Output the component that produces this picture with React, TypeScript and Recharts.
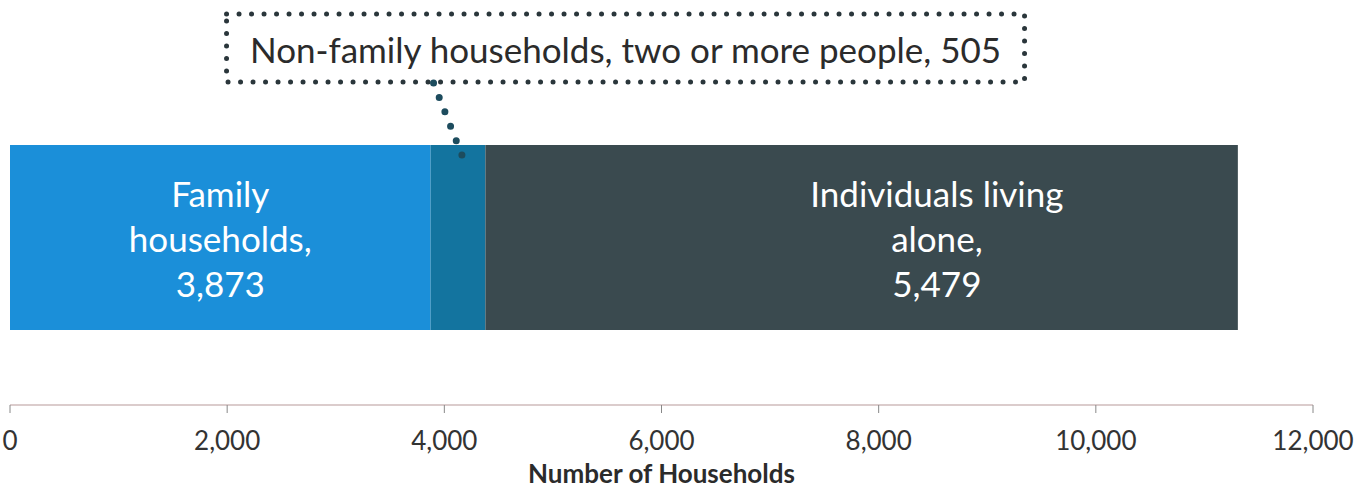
import React from 'react';
import { BarChart, Bar, XAxis, YAxis, LabelList } from 'recharts';

const categories = ['Households'];
const familyValues = [3873];
const nonFamilyValues = [505];
const aloneValues = [6930];
const familyLabel = ['Family', 'households,', '3,873'];
const aloneLabel = ['Individuals living', 'alone,', '5,479'];
const calloutText = 'Non-family households, two or more people, 505';
const xTicks = [0, 2000, 4000, 6000, 8000, 10000, 12000];
const axisTitle = 'Number of Households';

const data = categories.map((c, i) => ({
  name: c,
  family: familyValues[i],
  nonFamily: nonFamilyValues[i],
  alone: aloneValues[i],
}));

const FONT = 'Lato, "Open Sans", sans-serif';

const makeLines = (lines: string[], frac: number) => (props: any) => {
  const { x, y, width, height } = props;
  const cx = Number(x) + Number(width) * frac;
  const cy = Number(y) + Number(height) / 2;
  return (
    <g>
      {lines.map((l, i) => (
        <text
          key={i}
          x={cx}
          y={cy + (i - 1) * 45}
          textAnchor="middle"
          dominantBaseline="central"
          fill="#ffffff"
          fontSize={35}
          fontFamily={FONT}
        >
          {l}
        </text>
      ))}
    </g>
  );
};

const Callout = (props: any) => {
  const x = Number(props.x);
  const y = Number(props.y);
  const w = Number(props.width);
  const boxLeft = x - 204;
  const boxW = 798;
  const boxBottom = y - 63;
  const boxTop = boxBottom - 68;
  const lx1 = x + 3;
  const ly1 = boxBottom + 1;
  const lx2 = x + w * 0.6;
  const ly2 = y + 14;
  return (
    <g>
      <rect
        x={boxLeft}
        y={boxTop}
        width={boxW}
        height={68}
        fill="none"
        stroke="#2a363b"
        strokeWidth={5}
        strokeDasharray="0 12.5"
        strokeLinecap="round"
      />
      <text
        x={boxLeft + boxW / 2}
        y={boxTop + 35}
        textAnchor="middle"
        dominantBaseline="central"
        fill="#2b2b2b"
        fontSize={35}
        fontFamily={FONT}
      >
        {calloutText}
      </text>
      <line
        x1={lx1}
        y1={ly1}
        x2={lx2}
        y2={ly2}
        stroke="#1d4c5e"
        strokeWidth={7}
        strokeDasharray="0 15.5"
        strokeLinecap="round"
      />
    </g>
  );
};

const Tick = (props: any) => {
  const { x, y, payload } = props;
  return (
    <text
      x={x}
      y={y + 9}
      textAnchor="middle"
      dominantBaseline="central"
      fill="#333333"
      fontSize={26}
      fontFamily={FONT}
    >
      {Number(payload.value).toLocaleString('en-US')}
    </text>
  );
};

const AxisTitle = (props: any) => {
  const vb = props.viewBox || {};
  return (
    <text
      x={vb.x + vb.width / 2}
      y={vb.y + 68}
      textAnchor="middle"
      dominantBaseline="central"
      fill="#2b2b2b"
      fontSize={26}
      fontWeight="bold"
      fontFamily={FONT}
    >
      {axisTitle}
    </text>
  );
};

export default function App() {
  return (
    <div
      style={{
        position: 'absolute',
        left: 0,
        top: 0,
        width: 1365,
        height: 491,
        background: '#ffffff',
      }}
    >
      <style>{'.recharts-surface{overflow:visible}'}</style>
      <BarChart
        width={1365}
        height={491}
        data={data}
        layout="vertical"
        margin={{ top: 70, right: 52, bottom: 0, left: 10 }}
      >
        <XAxis
          type="number"
          domain={[0, 12000]}
          ticks={xTicks}
          interval={0}
          height={86}
          axisLine={{ stroke: '#b89a9a', strokeWidth: 1.2 }}
          tickLine={{ stroke: '#888888', strokeWidth: 1 }}
          tickSize={8}
          tickMargin={18}
          tick={<Tick />}
          label={<AxisTitle />}
        />
        <YAxis type="category" dataKey="name" hide width={0} />
        <Bar dataKey="family" stackId="a" fill="#1b8fd9" barSize={185} isAnimationActive={false}>
          <LabelList dataKey="family" content={makeLines(familyLabel, 0.5)} />
        </Bar>
        <Bar dataKey="nonFamily" stackId="a" fill="#13749f" barSize={185} isAnimationActive={false}>
          <LabelList dataKey="nonFamily" content={Callout} />
        </Bar>
        <Bar dataKey="alone" stackId="a" fill="#3a4a4f" barSize={185} isAnimationActive={false}>
          <LabelList dataKey="alone" content={makeLines(aloneLabel, 0.6)} />
        </Bar>
      </BarChart>
    </div>
  );
}
